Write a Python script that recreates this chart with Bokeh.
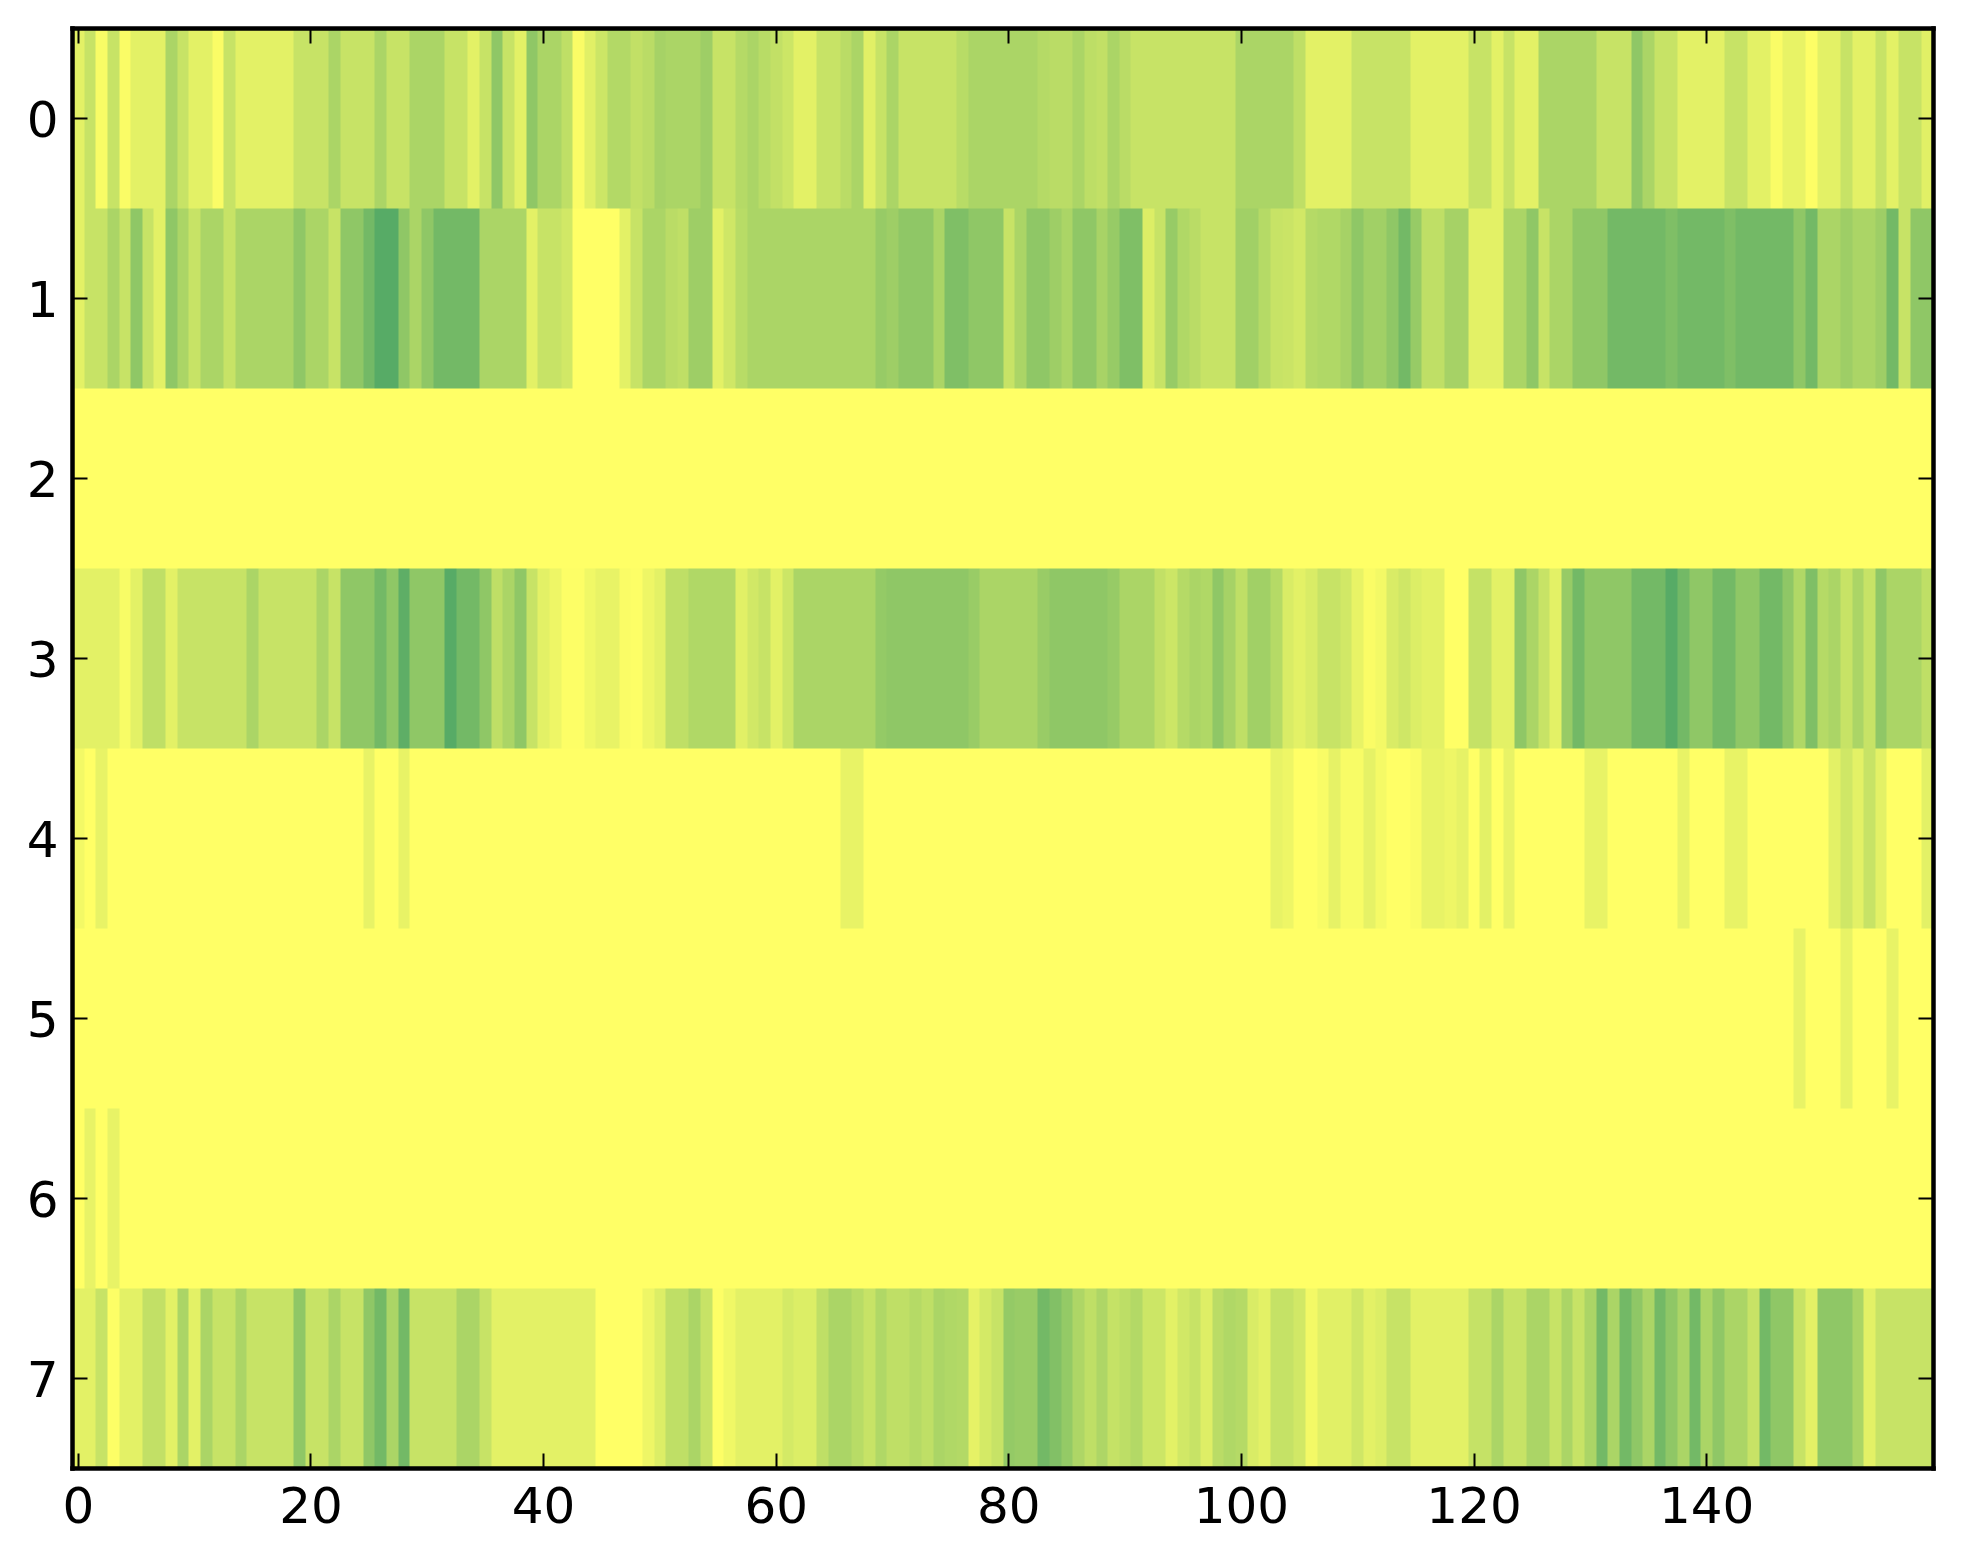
import numpy as np
from bokeh.plotting import figure
from bokeh.models import LinearAxis, FixedTicker, LinearColorMapper, Range1d
from bokeh.embed import file_html
from bokeh.resources import INLINE

row0 = [11,22,3,22,2,11,11,11,33,22,11,11,2,22,11,11,11,11,11,22,
        22,22,33,22,22,22,33,22,22,33,33,33,22,22,11,22,44,22,11,44,
        33,33,25,2,12,20,30,30,24,27,35,33,33,33,38,22,22,29,33,28,
        24,20,11,11,22,22,27,33,12,22,33,22,22,22,22,22,28,33,33,33,
        33,33,33,29,27,27,33,26,24,33,27,22,22,22,22,22,22,22,22,22,
        33,33,33,33,33,25,11,11,11,11,22,22,22,22,22,11,11,11,11,11,
        22,22,11,22,11,11,33,33,33,33,33,22,22,22,44,33,22,22,11,11,
        11,11,22,22,11,11,2,9,9,1,11,11,22,11,11,22,11,22,22,12]
row1 = [11,22,22,33,22,44,22,11,44,33,22,33,33,22,33,33,33,33,33,44,
        33,33,22,44,44,55,66,66,44,33,44,55,55,55,55,33,33,33,33,11,
        22,22,18,0,0,0,0,11,22,33,33,27,25,38,38,11,19,28,33,33,
        33,33,33,33,33,33,33,33,33,41,38,44,44,44,33,50,50,44,44,44,
        22,33,44,44,38,33,44,44,34,41,50,50,14,22,41,31,27,22,22,22,
        37,37,29,22,21,18,29,31,31,35,44,37,37,44,55,41,25,25,35,35,
        11,11,11,33,33,44,22,33,33,44,44,44,55,55,55,55,55,50,55,55,
        55,55,50,55,55,55,55,55,44,55,33,33,38,33,33,38,55,22,44,44]
row2 = [0] * 160
row3 = [11,11,11,11,3,11,25,25,11,22,22,22,22,22,22,33,22,22,22,22,
        22,33,22,44,44,44,55,44,63,44,44,44,66,55,55,44,25,33,44,22,
        11,7,1,1,6,9,9,2,1,7,11,25,25,31,31,31,31,12,18,22,
        11,20,33,33,33,33,33,33,33,42,44,44,44,44,44,44,44,40,33,33,
        33,33,33,40,44,44,44,44,44,41,33,33,33,24,20,29,33,31,44,35,
        25,37,37,29,15,11,15,22,22,18,9,2,5,15,19,14,11,11,0,0,
        23,23,11,11,44,33,22,11,41,55,44,44,44,44,55,55,55,66,55,44,
        44,55,55,44,44,55,55,44,31,50,29,33,22,33,22,44,33,33,33,25]
row4 = [5,0,9,0,0,0,0,0,0,0,0,0,0,0,0,0,0,0,0,0,
        0,0,0,0,0,9,0,0,9,0,0,0,0,0,0,0,0,0,0,0,
        0,0,0,0,0,0,0,0,0,0,0,0,0,0,0,0,0,0,0,0,
        0,0,0,0,0,0,9,9,0,0,0,0,0,0,0,0,0,0,0,0,
        0,0,0,0,0,0,0,0,0,0,0,0,0,0,0,0,0,0,0,0,
        0,0,0,9,7,0,0,3,10,3,3,10,4,0,0,2,9,9,7,10,
        0,11,0,9,0,0,0,0,0,0,9,9,0,0,0,0,0,0,9,0,
        0,0,9,9,0,0,0,0,0,0,0,11,19,11,22,11,0,0,0,11]
row5 = [0] * 148 + [9,0,0,0,9,0,0,0,9,0,0,0]
row6 = [0,9,0,9] + [0] * 156
row7 = [11,11,22,1,11,11,24,24,11,33,11,33,22,22,33,22,22,22,22,44,
        22,22,33,22,22,44,55,33,55,22,22,22,22,33,33,22,11,11,11,11,
        11,11,11,11,11,0,0,0,0,7,14,25,25,33,22,1,6,11,11,11,
        11,17,14,14,25,33,33,28,22,31,25,25,29,25,33,31,30,10,17,22,
        42,40,40,55,49,42,32,25,32,23,26,30,20,20,11,18,22,13,27,31,
        29,15,11,23,23,18,5,12,12,12,19,11,14,22,22,11,11,11,11,11,
        23,23,33,22,22,33,33,22,33,22,33,55,33,55,44,33,55,44,33,55,
        33,44,33,33,22,55,44,44,22,11,44,44,44,33,11,22,22,22,22,22]

rows = [row0, row1, row2, row3, row4, row5, row6, row7]
x_ticks = [0, 20, 40, 60, 80, 100, 120, 140]
y_ticks = [0, 1, 2, 3, 4, 5, 6, 7]

n_cols = len(row0)
n_rows = len(rows)
values = np.array(rows, dtype=float) / 100.0

# colour ramp of the map: yellow (low) to green (high)
palette = []
for k in range(256):
    t = 1 - k / 255
    palette.append("#%02x%02x%02x" % (round(255 * t), round(255 * (0.5 + 0.5 * t)), 102))
mapper = LinearColorMapper(palette=palette, low=0, high=1)

p = figure(
    frame_width=1861, frame_height=1440,
    x_range=Range1d(-0.5, n_cols - 0.5),
    y_range=Range1d(n_rows - 0.5, -0.5),
    output_backend="svg", toolbar_location=None,
    x_axis_location="below", y_axis_location="left",
    min_border_left=72, min_border_right=21, min_border_top=28, min_border_bottom=80,
    background_fill_color="white",
)
p.image(image=[values], x=-0.5, y=-0.5, dw=n_cols, dh=n_rows, color_mapper=mapper)

p.add_layout(LinearAxis(), "above")
p.add_layout(LinearAxis(), "right")
p.grid.visible = False

for ax, ticks in ((p.below[0], x_ticks), (p.above[0], x_ticks), (p.left[0], y_ticks), (p.right[0], y_ticks)):
    ax.ticker = FixedTicker(ticks=ticks)
    ax.major_tick_in = 15
    ax.major_tick_out = 0
    ax.minor_tick_in = 0
    ax.minor_tick_out = 0
    ax.major_tick_line_color = "black"
    ax.major_tick_line_width = 2
    ax.axis_line_color = "black"
    ax.axis_line_width = 4.5
    ax.axis_line_cap = "square"
    ax.major_label_text_font = "DejaVu Sans"
    ax.major_label_text_font_size = "50px"
    ax.major_label_text_color = "black"

for ax in (p.above[0], p.right[0]):
    ax.major_label_text_font_size = "1px"
    ax.major_label_text_color = None
    ax.major_label_standoff = 0

p.below[0].major_label_standoff = 18
p.left[0].major_label_standoff = 14

p.outline_line_color = None

open("out.html", "w").write(file_html(p, INLINE))
